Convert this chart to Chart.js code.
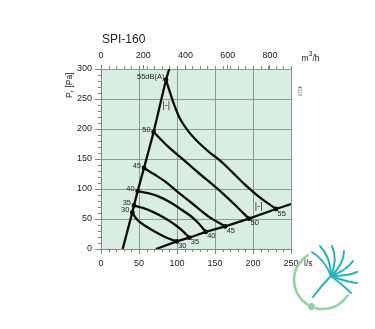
<!DOCTYPE html>
<html>
<head>
<meta charset="utf-8">
<script src="https://cdn.jsdelivr.net/npm/chart.js@4/dist/chart.umd.min.js"></script>
<style>
  html, body { margin: 0; padding: 0; background: #fff; }
  #wrap { width: 375px; height: 329px; }
</style>
</head>
<body>
<div id="wrap"><canvas id="fan" width="375" height="329"></canvas></div>
<script>
// axis ticks
const flowTicks = [0, 50, 100, 150, 200, 250];        // l/s
const flowTicksM3h = [0, 200, 400, 600, 800];          // m3/h
const pressTicks = [0, 50, 100, 150, 200, 250, 300];   // Pa

// system curves (l/s, Pa)
const sysLeftQ = [28.5, 41.2, 43.4, 48.2, 56.6, 69.3, 85.5, 89.8];
const sysLeftP = [0, 61, 72.5, 96.5, 135, 195, 282, 300];
const sysRightQ = [72.4, 99.6, 116.2, 137.7, 163.4, 194.7, 230.3, 250];
const sysRightP = [0, 12.7, 18.8, 28.5, 37.7, 50.5, 66.7, 75];

// sound level curves, dB(A)
const dbLevels = ['30', '35', '40', '45', '50', '55'];
const q30 = [41.2, 45, 50, 60, 70, 85, 99.6];
const p30 = [61, 53, 46, 37, 29.5, 19.5, 12.7];
const q35 = [43.4, 55, 66.7, 82, 97.4, 108, 116.2];
const p35 = [72.5, 68.5, 62.7, 53, 40.5, 29.5, 18.8];
const q40 = [48.2, 62, 75.4, 91, 106.1, 118, 128, 137.7];
const p40 = [96.5, 93, 87.7, 78, 65.5, 55, 43.3, 28.5];
const q45 = [56.6, 70, 84.2, 100, 119.3, 141.2, 163.4];
const p45 = [135, 124.5, 112.7, 96, 76.7, 54.3, 37.7];
const q50 = [69.3, 88, 108.3, 130, 152, 175, 194.7];
const p50 = [195, 171, 148.8, 125, 101.7, 75, 50.5];
const q55 = [85.5, 95, 104, 115, 128, 142, 156, 172, 188, 208, 230.3];
const p55 = [282, 245, 217, 196, 178, 162, 148, 129, 109, 87, 66.7];

// speed marks |-| (l/s, Pa)
const markQ = [85.9, 207.5];
const markP = [239, 70];

const FONT = '"Liberation Sans", Arial, Helvetica, sans-serif';
const curvesQ = [q30, q35, q40, q45, q50, q55];
const curvesP = [p30, p35, p40, p45, p50, p55];

function pts(q, p) {
  return q.map((v, i) => ({ x: v, y: p[i] }));
}

const datasets = [];
datasets.push({ data: pts(sysLeftQ, sysLeftP), pointRadius: 0, tension: 0 });
datasets.push({ data: pts(sysRightQ, sysRightP), pointRadius: 0, tension: 0 });
curvesQ.forEach((q, i) => {
  const n = q.length;
  datasets.push({
    data: pts(q, curvesP[i]),
    pointRadius: q.map((_, k) => (k === 0 || k === n - 1) ? 2.4 : 0),
    tension: 0.35
  });
});
datasets.forEach(d => {
  d.showLine = true;
  d.borderColor = '#0d0d0d';
  d.backgroundColor = '#0d0d0d';
  d.pointBackgroundColor = '#0d0d0d';
  d.pointBorderWidth = 0;
  d.borderWidth = 2.3;
});

const decor = {
  id: 'decor',
  beforeDraw(chart) {
    const { ctx, chartArea: a } = chart;
    ctx.save();
    ctx.fillStyle = '#d8eee2';
    ctx.fillRect(a.left, a.top, a.right - a.left, a.bottom - a.top);
    ctx.restore();
  },
  afterDraw(chart) {
    const { ctx, chartArea: a } = chart;
    const xs = chart.scales.x, ys = chart.scales.y;
    ctx.save();

    // minor ticks
    ctx.strokeStyle = '#7d8a83';
    ctx.lineWidth = 1;
    ctx.beginPath();
    for (let v = 0; v <= 250; v += 10) {
      const x = Math.round(xs.getPixelForValue(v)) + 0.5;
      ctx.moveTo(x, a.bottom); ctx.lineTo(x, a.bottom + 3);
      ctx.moveTo(x, a.top); ctx.lineTo(x, a.top - 3);
    }
    for (let v = 0; v <= 300; v += 10) {
      const y = Math.round(ys.getPixelForValue(v)) + 0.5;
      ctx.moveTo(a.left, y); ctx.lineTo(a.left - 3, y);
    }
    ctx.stroke();

    // dB labels at curve ends
    ctx.fillStyle = '#222';
    ctx.font = '7.5px ' + FONT;
    ctx.textBaseline = 'middle';
    curvesQ.forEach((q, i) => {
      const p = curvesP[i];
      const n = q.length;
      const lx = xs.getPixelForValue(q[0]);
      const ly = ys.getPixelForValue(p[0]);
      ctx.textAlign = 'right';
      if (dbLevels[i] === '55') ctx.fillText(dbLevels[i] + 'dB(A)', lx - 1.5, ly - 3);
      else ctx.fillText(dbLevels[i], lx - 3, ly - 2.5);
      ctx.textAlign = 'left';
      ctx.fillText(dbLevels[i], xs.getPixelForValue(q[n - 1]) + 1.5, ys.getPixelForValue(p[n - 1]) + 4.5);
    });

    // speed marks
    ctx.font = '9px ' + FONT;
    ctx.textAlign = 'center';
    markQ.forEach((q, i) => {
      ctx.fillText('|-|', xs.getPixelForValue(q), ys.getPixelForValue(markP[i]));
    });

    // title
    ctx.fillStyle = '#222';
    ctx.textAlign = 'left';
    ctx.textBaseline = 'middle';
    ctx.font = '12px ' + FONT;
    ctx.fillText('SPI-160', 102, 40);

    // m3/h unit
    ctx.textBaseline = 'alphabetic';
    ctx.font = '8.5px ' + FONT;
    ctx.fillText('m', 301.5, 60.5);
    ctx.font = '6.5px ' + FONT;
    ctx.fillText('3', 308.8, 56);
    ctx.font = '8.5px ' + FONT;
    ctx.fillText('/h', 312.5, 60.5);

    // l/s unit
    ctx.textBaseline = 'middle';
    ctx.fillText('l/s', 304, 263.5);

    // pressure axis title
    ctx.save();
    ctx.translate(71.5, 98);
    ctx.rotate(-Math.PI / 2);
    ctx.textBaseline = 'alphabetic';
    ctx.font = '8.5px ' + FONT;
    ctx.fillText('P', 0, 0);
    ctx.font = '6px ' + FONT;
    ctx.fillText('t', 6, 2.5);
    ctx.font = '8.5px ' + FONT;
    ctx.fillText('[Pa]', 10.5, 0);
    ctx.restore();

    // drawing number
    ctx.save();
    ctx.translate(299, 86);
    ctx.rotate(Math.PI / 2);
    ctx.fillStyle = '#666';
    ctx.font = '4.5px ' + FONT;
    ctx.textBaseline = 'middle';
    ctx.fillText('4018', 0, 0);
    ctx.restore();

    // logo
    const cx = 323, cy = 280, r = 29;
    const rad = d => d * Math.PI / 180;
    ctx.strokeStyle = '#8fd3a2';
    ctx.lineWidth = 2.6;
    ctx.lineCap = 'round';
    ctx.beginPath(); ctx.arc(cx, cy, r, rad(32), rad(104)); ctx.stroke();
    ctx.beginPath(); ctx.arc(cx, cy, r, rad(123), rad(238)); ctx.stroke();
    ctx.fillStyle = '#8fd3a2';
    ctx.beginPath();
    ctx.arc(cx + r * Math.cos(rad(113.5)), cy + r * Math.sin(rad(113.5)), 3.6, 0, Math.PI * 2);
    ctx.fill();

    // fronds: end x, end y, control x, control y
    const ox = 331, oy = 276;
    const fronds = [
      [313, 297, 323, 284],
      [312, 252, 325, 260],
      [320, 246, 331, 258],
      [332, 246, 338, 259],
      [344, 251, 344, 264],
      [353, 261, 347, 270],
      [357, 272, 349, 276],
      [357, 283, 347, 282],
      [351, 293, 344, 286]
    ];
    ctx.strokeStyle = '#27b3b8';
    ctx.lineWidth = 2;
    fronds.forEach(f => {
      ctx.beginPath();
      ctx.moveTo(ox, oy);
      ctx.quadraticCurveTo(f[2], f[3], f[0], f[1]);
      ctx.stroke();
    });
    ctx.restore();
  }
};

const tickFont = { size: 9, family: FONT };

new Chart(document.getElementById('fan'), {
  type: 'scatter',
  data: { datasets },
  options: {
    responsive: false,
    animation: false,
    layout: { padding: { left: 0, right: 84, top: 0, bottom: 0 } },
    plugins: { legend: { display: false }, tooltip: { enabled: false } },
    scales: {
      x: {
        type: 'linear', position: 'bottom', min: 0, max: 250,
        afterFit(s) { s.height = 80; },
        afterBuildTicks(s) { s.ticks = flowTicks.map(v => ({ value: v })); },
        ticks: { color: '#222', font: tickFont, padding: 4, maxRotation: 0 },
        grid: { color: '#8d9a93', tickColor: '#7d8a83', tickLength: 5 },
        border: { color: '#7d8a83' }
      },
      xTop: {
        type: 'linear', position: 'top', min: 0, max: 900,
        afterFit(s) { s.height = 69; },
        afterBuildTicks(s) { s.ticks = flowTicksM3h.map(v => ({ value: v })); },
        ticks: { color: '#222', font: tickFont, padding: 4, maxRotation: 0 },
        grid: { drawOnChartArea: false, tickColor: '#7d8a83', tickLength: 4 },
        border: { color: '#8d9a93' }
      },
      y: {
        type: 'linear', min: 0, max: 300,
        afterFit(s) { s.width = 101; },
        afterBuildTicks(s) { s.ticks = pressTicks.map(v => ({ value: v })); },
        ticks: { color: '#222', font: tickFont, padding: 3 },
        grid: { color: '#8d9a93', tickColor: '#7d8a83', tickLength: 6 },
        border: { color: '#7d8a83' }
      }
    }
  },
  plugins: [decor]
});
</script>
</body>
</html>
